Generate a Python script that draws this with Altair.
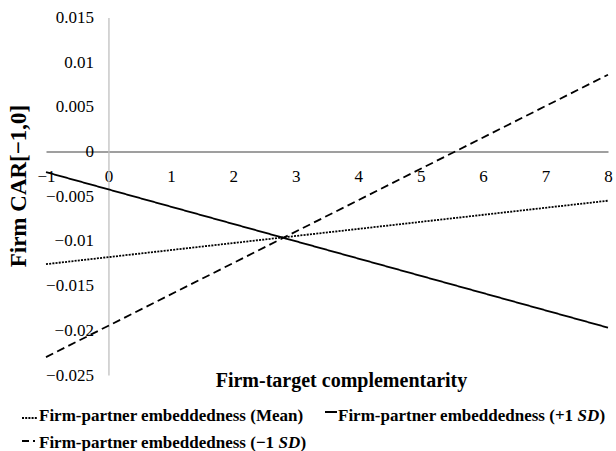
import altair as alt
import pandas as pd

# Firm CAR[-1,0] at the two ends of the complementarity range, one series per
# level of firm-partner embeddedness
complementarity = [-1, 8]
car_mean = [-0.0126, -0.0055]
car_plus_sd = [-0.0023, -0.0197]
car_minus_sd = [-0.0230, 0.0086]

series_keys = ["mean", "plus_sd", "minus_sd"]

x_ticks = [-1, 0, 1, 2, 3, 4, 5, 6, 7, 8]
y_ticks = [-0.025, -0.02, -0.015, -0.01, -0.005, 0, 0.005, 0.01, 0.015]

x_title = "Firm-target complementarity"
y_title = "Firm CAR[\u22121,0]"
legend_mean = "Firm-partner embeddedness (Mean)"
legend_plus_head = "Firm-partner embeddedness (+1 "
legend_minus_head = "Firm-partner embeddedness (\u22121 "
legend_sd = "SD"
legend_close = ")"

FONT = "Liberation Serif"
W, H = 562, 357.5
X_MIN, X_MAX = -1, 8
Y_MIN, Y_MAX = -0.025, 0.015

# long table for the three lines
rows = []
for key, vals in zip(series_keys, [car_mean, car_plus_sd, car_minus_sd]):
    for xv, yv in zip(complementarity, vals):
        rows.append({"comp": xv, "car": yv, "series": key})
df = pd.DataFrame(rows)

# axis lines sit on x = 0 and y = 0
y_axis_offset = -W * (0 - X_MIN) / (X_MAX - X_MIN)
x_axis_offset = -H * (0 - Y_MIN) / (Y_MAX - Y_MIN)

lines = alt.Chart(df).mark_line(color="black", strokeWidth=1.8).encode(
    x=alt.X(
        "comp:Q",
        scale=alt.Scale(domain=[X_MIN, X_MAX], nice=False, zero=False),
        axis=alt.Axis(
            values=x_ticks, format="d", title=None, grid=False,
            ticks=False, tickSize=0, labelFlush=False, labelOverlap=False,
            domainColor="#7f7f7f", domainWidth=1.5, offset=x_axis_offset,
            labelPadding=16.5, labelFont=FONT, labelFontSize=17,
            labelColor="black",
        ),
    ),
    y=alt.Y(
        "car:Q",
        scale=alt.Scale(domain=[Y_MIN, Y_MAX], nice=False, zero=False),
        axis=alt.Axis(
            values=y_ticks, format=".3~f", title=None, grid=False,
            ticks=False, tickSize=0, labelFlush=False, labelOverlap=False,
            domainColor="#bfbfbf", domainWidth=1.3, offset=y_axis_offset,
            labelPadding=15, labelFont=FONT, labelFontSize=17,
            labelColor="black",
        ),
    ),
    strokeDash=alt.StrokeDash(
        "series:N",
        scale=alt.Scale(domain=series_keys, range=[[2, 1.2], [1, 0], [8, 4.5]]),
        legend=None,
    ),
    detail="series:N",
)


def label(text, x, y, size=17, style="normal", align="left", baseline="alphabetic", angle=0):
    return alt.Chart(alt.Data(values=[{}])).mark_text(
        text=text, font=FONT, fontSize=size, fontWeight="bold", fontStyle=style,
        align=align, baseline=baseline, angle=angle, color="black",
    ).encode(x=alt.value(x), y=alt.value(y))


def swatch(x1, x2, y, dash):
    return alt.Chart(alt.Data(values=[{}])).mark_rule(
        color="black", strokeWidth=1.8, strokeDash=dash,
    ).encode(x=alt.value(x1), x2=alt.value(x2), y=alt.value(y))


titles = [
    label(y_title, -27.5, 168.5, size=23, align="center", baseline="middle", angle=270),
    label(x_title, 295.5, 369.5, size=20, align="center"),
]

# legend: widths of the upright prefix and of the italic "SD" at 17px
row1, row2 = 403.5, 430.5
col1, col2 = -7, 292
sd_off, close_off = 239.6, 261.4

legend = [
    swatch(-24, -8, row1 - 3, [2, 1.2]),
    label(legend_mean, col1, row1),
    swatch(279, 291, row1 - 9, [1, 0]),
    label(legend_plus_head, col2, row1),
    label(legend_sd, col2 + sd_off, row1, style="italic"),
    label(legend_close, col2 + close_off, row1),
    swatch(-24, -9, row2 - 7, [7, 4, 2, 10]),
    label(legend_minus_head, col1, row2),
    label(legend_sd, col1 + sd_off, row2, style="italic"),
    label(legend_close, col1 + close_off, row2),
]

chart = alt.layer(lines, *titles, *legend).properties(
    width=W,
    height=H,
    padding={"left": 46, "top": 17.5, "right": 8, "bottom": 76},
    autosize=alt.AutoSizeParams(type="none"),
    background="white",
).configure_view(
    stroke=None
).configure_axis(
    labelFont=FONT, labelFontSize=17, labelColor="black", labelFontWeight="normal"
).configure_text(
    font=FONT
)

chart.save("out.html", embed_options={"renderer": "svg", "actions": False})
